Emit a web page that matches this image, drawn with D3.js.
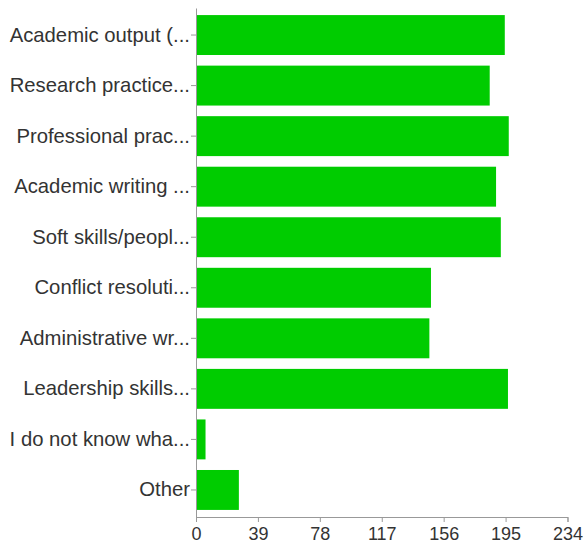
<!DOCTYPE html>
<html>
<head>
<meta charset="utf-8">
<script src="https://cdn.jsdelivr.net/npm/d3@7"></script>
<style>
  html, body { margin: 0; padding: 0; background: #fff; }
  svg { display: block; }
</style>
</head>
<body>
<script>
const categories = [
  "Academic output (...",
  "Research practice...",
  "Professional prac...",
  "Academic writing ...",
  "Soft skills/peopl...",
  "Conflict resoluti...",
  "Administrative wr...",
  "Leadership skills...",
  "I do not know wha...",
  "Other"
];
const values = [194.5, 185, 197, 189, 192, 148, 147, 196.5, 6, 27];
const tickValues = [0, 39, 78, 117, 156, 195, 234];

const W = 584, H = 546;
const svg = d3.select("body").append("svg").attr("width", W).attr("height", H);

const x = d3.scaleLinear().domain([0, 234]).range([196, 567.5]);
const y = d3.scaleBand().domain(categories).range([8, 517])
  .paddingInner(0.21).paddingOuter(0.14);

svg.append("g").selectAll("rect")
  .data(categories)
  .join("rect")
  .attr("x", x(0) + 0.5)
  .attr("y", d => y(d))
  .attr("width", (d, i) => x(values[i]) - x(0) - 0.5)
  .attr("height", y.bandwidth())
  .attr("fill", "#00cc00");

const fontFam = "'Liberation Sans', Arial, Helvetica, sans-serif";

const gy = svg.append("g").attr("transform", `translate(${x(0)},0)`)
  .call(d3.axisLeft(y).tickSize(5).tickSizeOuter(0).tickPadding(1));
gy.selectAll("text").attr("font-size", 20.3).attr("font-family", fontFam).attr("fill", "#333");

const gx = svg.append("g").attr("transform", `translate(0,517)`)
  .call(d3.axisBottom(x).tickValues(tickValues).tickSize(5).tickPadding(5));
gx.selectAll("text").attr("font-size", 18).attr("font-family", fontFam).attr("fill", "#333");

svg.selectAll(".domain, .tick line").attr("stroke", "#999");
</script>
</body>
</html>
